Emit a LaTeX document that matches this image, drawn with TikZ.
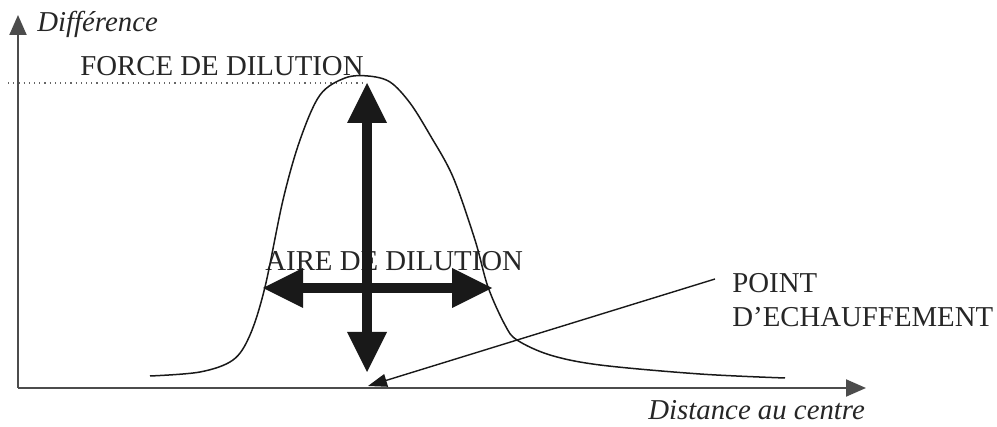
\documentclass[tikz,border=0pt]{standalone}
\usepackage{fontspec}
\setmainfont{Liberation Serif}
\usetikzlibrary{arrows.meta, positioning}

\begin{document}
\begin{tikzpicture}[x=0.5pt, y=-0.5pt, >=Stealth,
    axis/.style={-{Triangle[length=10pt,width=8.5pt]}, line width=1pt, black!70},
    bigarrow/.style={{Triangle[length=20pt,width=20pt,line width=0pt]}-{Triangle[length=20pt,width=20pt,line width=0pt]}, line width=5pt, black!90},
    leader/.style={-{Triangle[length=9.5pt,width=6.5pt]}, line width=0.7pt, black!90},
    lbl/.style={inner sep=0pt, anchor=base west, font=\fontsize{14.4}{17}\selectfont, text=black!85}]
    \useasboundingbox (0,0) rectangle (997,427);

    % axes
    \coordinate (origin) at (18,388);
    \coordinate (xend) at (866,388);
    \coordinate (yend) at (18,15);
    \node[lbl, font=\fontsize{14.4}{17}\selectfont\itshape] (ylabel) at (37,32) {Différence};
    \node[lbl, font=\fontsize{14.4}{17}\selectfont\itshape] (xlabel) at (648,420) {Distance au centre};

    % maximum level
    \coordinate (dotstart) at (8,83);
    \coordinate (dotend) at (365,83);
    \draw[dotted, black!60, line width=0.6pt] (dotstart) -- (dotend);

    % labels
    \node[lbl] (force) at (80,76) {FORCE DE DILUTION};
    \node[lbl] (aire) at (265,271) {AIRE DE DILUTION};
    \node[lbl] (point) at (732,293) {POINT};
    \node[lbl] (echauf) at (732,327) {D'ECHAUFFEMENT};

    % bell curve
    \draw[line width=0.75pt, black!90] plot[smooth, tension=0.55] coordinates {
        (150,376) (200,372) (233,360) (250,335) (265,287) (283,200) (300,140)
        (320,95) (345,78) (368,76) (390,82) (410,103) (430,135) (453,177)
        (475,240) (488,287) (505,325) (517,340) (550,355) (600,365) (700,374) (785,378)};

    % strength and area
    \coordinate (vtop) at (367,83);
    \coordinate (vbot) at (367,372);
    \coordinate (hleft) at (263,288);
    \coordinate (hright) at (492,288);
    \draw[bigarrow] (vbot) -- (vtop);
    \draw[bigarrow] (hleft) -- (hright);

    % hot spot
    \coordinate (leadstart) at (715,279);
    \coordinate (hotspot) at (368,386);
    \draw[leader] (leadstart) -- (hotspot);

    \draw[axis] (origin) -- (xend);
    \draw[axis] (origin) -- (yend);
\end{tikzpicture}
\end{document}
